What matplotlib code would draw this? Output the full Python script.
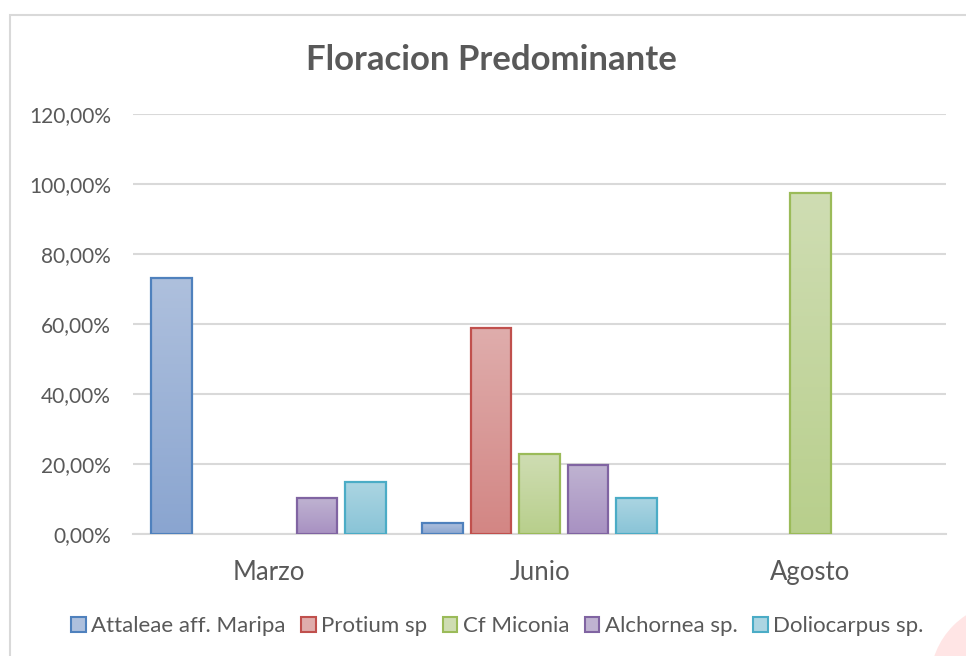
import matplotlib.pyplot as plt
import numpy as np
from matplotlib.patches import Rectangle, Circle
from matplotlib.colors import LinearSegmentedColormap
from matplotlib.ticker import FuncFormatter

plt.rcParams['font.family'] = ['Lato', 'DejaVu Sans']

months = ['Marzo', 'Junio', 'Agosto']
species = ['Attaleae aff. Maripa', 'Protium sp', 'Cf Miconia', 'Alchornea sp.', 'Doliocarpus sp.']
attaleae = [0.731, 0.031, 0.0]
protium = [0.0, 0.589, 0.0]
miconia = [0.0, 0.229, 0.974]
alchornea = [0.103, 0.197, 0.0]
doliocarpus = [0.149, 0.103, 0.0]
values = [attaleae, protium, miconia, alchornea, doliocarpus]

edge_colors = ['#4F81BD', '#C0504D', '#9BBB59', '#8064A2', '#4BACC6']
top_colors = ['#AEC0DD', '#DFADAC', '#CFDDB3', '#BFB3D1', '#ACD5E2']
bottom_colors = ['#8AA5D0', '#D38684', '#B8CF8C', '#A891C2', '#89C4D7']

fig = plt.figure(figsize=(9.66, 6.56), dpi=100)
fig.patch.set_facecolor('white')
fig.add_artist(Rectangle((10 / 966, -0.05), 1.2, 1 - 15 / 656 + 0.05,
                         transform=fig.transFigure, fill=False,
                         edgecolor='#D9D9D9', linewidth=1.5))
# pink blob in the bottom right corner
fig.add_artist(Circle((10.10, -0.26), 0.8, transform=fig.dpi_scale_trans,
                      facecolor='#FFE5E5', edgecolor='none'))

ax = fig.add_axes([133 / 966, 122 / 656, (946 - 133) / 966, (534 - 114) / 656])

x = np.arange(len(months))
pitch = 0.179
width = 0.15
for i, (vals, ec) in enumerate(zip(values, edge_colors)):
    offset = (i - 2) * pitch
    xs, hs = [], []
    for j, v in enumerate(vals):
        if v > 0:
            xs.append(x[j] + offset)
            hs.append(v)
    bars = ax.bar(xs, hs, width, facecolor='none', edgecolor=ec, linewidth=1.6,
                  label=species[i], zorder=3)
    cmap = LinearSegmentedColormap.from_list('g%d' % i, [bottom_colors[i], top_colors[i]])
    for b in bars:
        bx, by = b.get_x(), b.get_y()
        bw, bh = b.get_width(), b.get_height()
        im = ax.imshow(np.linspace(0, 1, 100).reshape(-1, 1), cmap=cmap, aspect='auto',
                       origin='lower', extent=(bx, bx + bw, by, by + bh), zorder=2)
        im.set_clip_path(b)

ax.set_xlim(-0.5, 2.5)
ax.set_ylim(0, 1.2)
ax.set_yticks(np.arange(0, 1.21, 0.2))
ax.yaxis.set_major_formatter(FuncFormatter(lambda v, p: ('%.2f%%' % (v * 100)).replace('.', ',')))
ax.set_xticks(x)
ax.set_xticklabels(months)
ax.grid(axis='y', color='#D9D9D9', linewidth=1.5, zorder=0)
ax.set_axisbelow(True)
for s in ['top', 'right', 'left']:
    ax.spines[s].set_visible(False)
ax.spines['bottom'].set_color('#D9D9D9')
ax.spines['bottom'].set_linewidth(1.5)
ax.tick_params(axis='y', length=0, pad=16, labelsize=15, labelcolor='#595959')
ax.tick_params(axis='x', length=0, pad=19, labelsize=18.5, labelcolor='#595959')

fig.text(0.509, 0.909, 'Floracion Predominante', ha='center', va='center',
         fontsize=25, fontweight='bold', color='#595959')

handles = [Rectangle((0, 0), 1, 1, facecolor=t, edgecolor=e, linewidth=1.5)
           for t, e in zip(top_colors, edge_colors)]
fig.legend(handles, species, loc='center', bbox_to_anchor=(0.515, 1 - 626 / 656),
           ncol=5, frameon=False, fontsize=16, labelcolor='#595959',
           handlelength=0.65, handleheight=0.65, handletextpad=0.25, columnspacing=0.7)

plt.savefig('out.png', dpi=100)
